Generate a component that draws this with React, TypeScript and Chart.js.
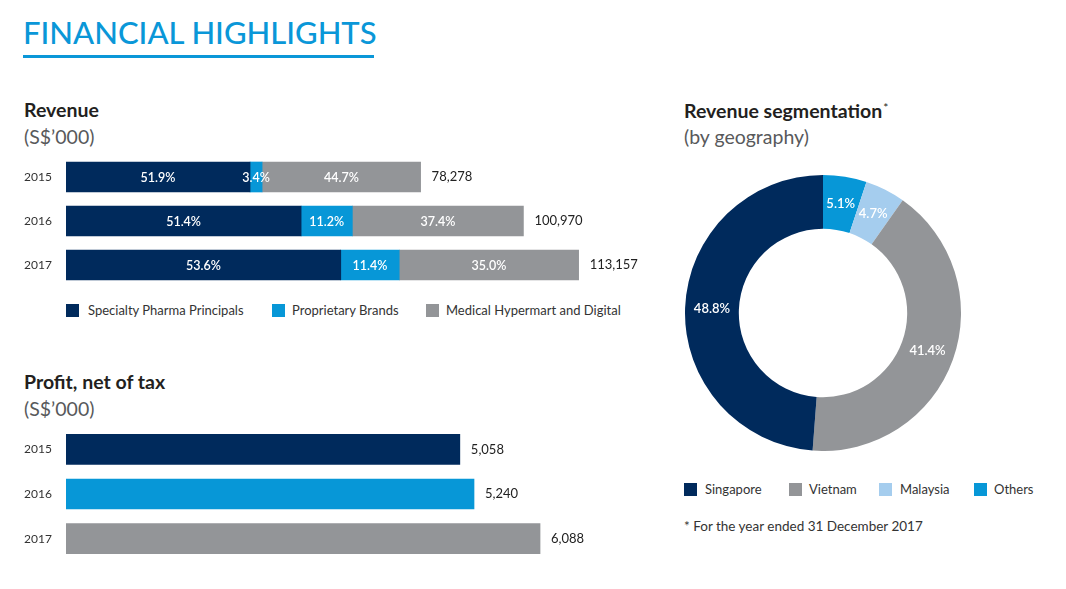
import React, { useEffect, useRef } from "react";
import { Chart, registerables } from "chart.js";

Chart.register(...registerables);

// ---------- data ----------
const years = ["2015", "2016", "2017"];
const revenueTotals = [78278, 100970, 113157];
const specialtyPct = [51.9, 51.4, 53.6];
const proprietaryPct = [3.4, 11.2, 11.4];
const hypermartPct = [44.7, 37.4, 35.0];
const revenueSegmentNames = ["Specialty Pharma Principals", "Proprietary Brands", "Medical Hypermart and Digital"];

const profitValues = [5058, 5240, 6088];

const geoLabels = ["Singapore", "Vietnam", "Malaysia", "Others"];
const geoPct = [48.8, 41.4, 4.7, 5.1];

// ---------- styles ----------
const NAVY = "#002a5c";
const BLUE = "#0797d7";
const GRAY = "#939598";
const LIGHT = "#a5cdee";
const TITLE_BLUE = "#0a97d8";
const FONT = "Lato, 'Open Sans', sans-serif";

const REV_AXIS_MAX = 132000;
const PROFIT_AXIS_MAX = 7680;

const segColors = [NAVY, BLUE, GRAY];
const profitColors = [NAVY, BLUE, GRAY];
const geoColors = [NAVY, GRAY, LIGHT, BLUE];

const fmt = (v: number) => v.toLocaleString("en-US");

const yAxis = {
  type: "category" as const,
  position: "left" as const,
  grid: { display: false },
  border: { display: false },
  ticks: { color: "#333", font: { family: FONT, size: 12 }, padding: 0, crossAlign: "far" as const },
  afterFit: (s: any) => {
    s.width = 42;
    s.paddingTop = 0;
    s.paddingBottom = 0;
  },
};

const barLabelPlugin = {
  id: "barLabels",
  afterDatasetsDraw(chart: any, _args: any, opts: any) {
    const ctx = chart.ctx;
    ctx.save();
    ctx.textBaseline = "middle";
    if (opts.inside) {
      ctx.font = `600 12.5px ${FONT}`;
      ctx.fillStyle = "#fff";
      ctx.textAlign = "center";
      chart.data.datasets.forEach((ds: any, i: number) => {
        const meta = chart.getDatasetMeta(i);
        meta.data.forEach((el: any, j: number) => {
          const pct = opts.inside[i][j];
          ctx.fillText(pct.toFixed(1) + "%", (el.x + el.base) / 2, el.y + 1);
        });
      });
    }
    const last = chart.getDatasetMeta(chart.data.datasets.length - 1);
    ctx.font = `13px ${FONT}`;
    ctx.fillStyle = "#222";
    ctx.textAlign = "left";
    last.data.forEach((el: any, j: number) => {
      ctx.fillText(fmt(opts.totals[j]), el.x + 11, el.y);
    });
    ctx.restore();
  },
};

const arcLabelPlugin = {
  id: "arcLabels",
  afterDatasetsDraw(chart: any, _args: any, opts: any) {
    const ctx = chart.ctx;
    ctx.save();
    ctx.font = `600 13px ${FONT}`;
    ctx.fillStyle = "#fff";
    ctx.textAlign = "center";
    ctx.textBaseline = "middle";
    const meta = chart.getDatasetMeta(0);
    meta.data.forEach((el: any, j: number) => {
      const p = el.tooltipPosition();
      ctx.fillText(opts.values[j].toFixed(1) + "%", p.x, p.y);
    });
    ctx.restore();
  },
};

function RevenueChart() {
  const ref = useRef<HTMLCanvasElement>(null);
  useEffect(() => {
    const pcts = [specialtyPct, proprietaryPct, hypermartPct];
    const chart = new Chart(ref.current!, {
      type: "bar",
      data: {
        labels: years,
        datasets: pcts.map((p, i) => ({
          label: revenueSegmentNames[i],
          data: revenueTotals.map((t, j) => (t * p[j]) / 100),
          backgroundColor: segColors[i],
          barThickness: 30,
          borderWidth: 0,
        })),
      },
      options: {
        indexAxis: "y",
        responsive: false,
        animation: false,
        layout: { padding: 0 },
        plugins: {
          legend: { display: false },
          tooltip: { enabled: false },
          barLabels: { inside: pcts, totals: revenueTotals },
        } as any,
        scales: {
          x: { stacked: true, display: false, min: 0, max: REV_AXIS_MAX },
          y: { ...yAxis, stacked: true },
        },
      },
      plugins: [barLabelPlugin],
    });
    return () => chart.destroy();
  }, []);
  return <canvas ref={ref} width={640} height={132} style={{ position: "absolute", left: 24, top: 155, width: 640, height: 132 }} />;
}

function ProfitChart() {
  const ref = useRef<HTMLCanvasElement>(null);
  useEffect(() => {
    const chart = new Chart(ref.current!, {
      type: "bar",
      data: {
        labels: years,
        datasets: [
          {
            label: "Profit, net of tax",
            data: profitValues,
            backgroundColor: profitColors,
            barThickness: 30,
            borderWidth: 0,
          },
        ],
      },
      options: {
        indexAxis: "y",
        responsive: false,
        animation: false,
        layout: { padding: 0 },
        plugins: {
          legend: { display: false },
          tooltip: { enabled: false },
          barLabels: { totals: profitValues },
        } as any,
        scales: {
          x: { display: false, min: 0, max: PROFIT_AXIS_MAX },
          y: yAxis,
        },
      },
      plugins: [barLabelPlugin],
    });
    return () => chart.destroy();
  }, []);
  return <canvas ref={ref} width={640} height={134} style={{ position: "absolute", left: 24, top: 427, width: 640, height: 134 }} />;
}

function GeoChart() {
  const ref = useRef<HTMLCanvasElement>(null);
  useEffect(() => {
    // drawn clockwise from the top: Others, Malaysia, Vietnam, Singapore
    const order = [3, 2, 1, 0];
    const chart = new Chart(ref.current!, {
      type: "doughnut",
      data: {
        labels: order.map((i) => geoLabels[i]),
        datasets: [
          {
            data: order.map((i) => geoPct[i]),
            backgroundColor: order.map((i) => geoColors[i]),
            borderWidth: 0,
          },
        ],
      },
      options: {
        responsive: false,
        animation: false,
        cutout: "61%",
        layout: { padding: 0 },
        plugins: {
          legend: { display: false },
          tooltip: { enabled: false },
          arcLabels: { values: order.map((i) => geoPct[i]) },
        } as any,
      },
      plugins: [arcLabelPlugin],
    });
    return () => chart.destroy();
  }, []);
  return <canvas ref={ref} width={276} height={276} style={{ position: "absolute", left: 685, top: 175, width: 276, height: 276 }} />;
}

const abs = (left: number, top: number, extra: React.CSSProperties = {}): React.CSSProperties => ({
  position: "absolute",
  left,
  top,
  whiteSpace: "nowrap",
  fontFamily: FONT,
  ...extra,
});

function LegendItem({ left, top, color, text, textLeft }: { left: number; top: number; color: string; text: string; textLeft: number }) {
  return (
    <>
      <div style={{ position: "absolute", left, top, width: 13, height: 13, background: color }} />
      <div style={abs(textLeft, top - 2, { fontSize: 13, color: "#333", lineHeight: "17px" })}>{text}</div>
    </>
  );
}

export default function App() {
  useEffect(() => {
    document.body.style.margin = "0";
  }, []);
  const heading: React.CSSProperties = { fontSize: 19.5, fontWeight: 700, color: "#231f20", lineHeight: "24px" };
  const sub: React.CSSProperties = { fontSize: 19.5, color: "#58595b", lineHeight: "24px" };
  const revLegendX = [66, 272, 426];
  const revLegendTextX = [88, 292, 446];
  const geoLegendX = [684, 789, 879, 974];
  const geoLegendTextX = [705, 809, 900, 994];
  return (
    <div style={{ position: "relative", width: 1066, height: 589, background: "#fff", overflow: "hidden" }}>
      <div style={abs(23, 12, { fontSize: 31, fontWeight: 500, color: TITLE_BLUE, lineHeight: "40px" })}>FINANCIAL HIGHLIGHTS</div>
      <div style={{ position: "absolute", left: 23, top: 55, width: 351, height: 3, background: TITLE_BLUE }} />

      <div style={abs(24, 98, heading)}>Revenue</div>
      <div style={abs(24, 125, sub)}>(S$’000)</div>
      <RevenueChart />
      {revenueSegmentNames.map((n, i) => (
        <LegendItem key={n} left={revLegendX[i]} top={304} color={segColors[i]} text={n} textLeft={revLegendTextX[i]} />
      ))}

      <div style={abs(24, 370, heading)}>Profit, net of tax</div>
      <div style={abs(24, 397, sub)}>(S$’000)</div>
      <ProfitChart />

      <div style={abs(684, 99, heading)}>
        Revenue segmentation
        <span style={{ position: "relative", top: -6, marginLeft: 1, fontSize: 12, fontWeight: 400 }}>*</span>
      </div>
      <div style={abs(684, 125, sub)}>(by geography)</div>
      <GeoChart />
      {geoLabels.map((n, i) => (
        <LegendItem key={n} left={geoLegendX[i]} top={483} color={geoColors[i]} text={n} textLeft={geoLegendTextX[i]} />
      ))}
      <div style={abs(684, 517, { fontSize: 13.5, color: "#333", lineHeight: "18px" })}>* For the year ended 31 December 2017</div>
    </div>
  );
}
